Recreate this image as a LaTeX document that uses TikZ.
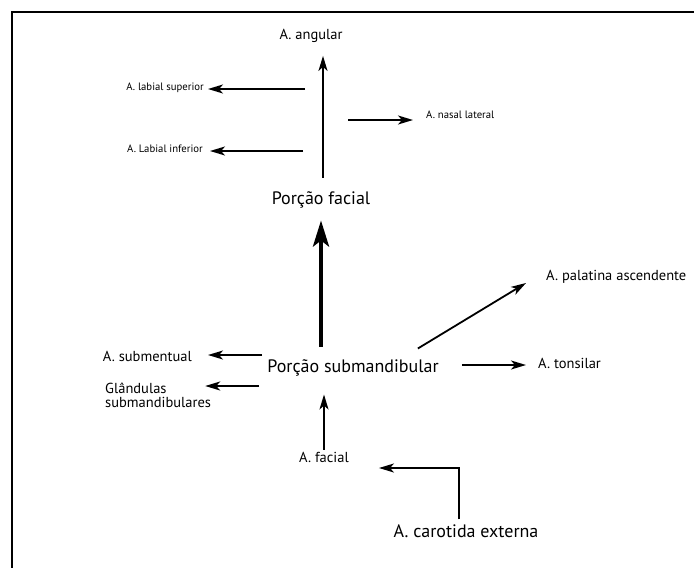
\documentclass[tikz,border=0pt]{standalone}
\usepackage{fontspec}
\setmainfont{PT Sans}
\usetikzlibrary{arrows.meta}

\begin{document}
\begin{tikzpicture}[
    x=1pt,
    y=-1pt,
    >=Stealth,
    small/.style={font=\fontsize{10.7}{12}\selectfont, inner sep=1pt},
    medium/.style={font=\fontsize{14.5}{14}\selectfont, inner sep=1pt},
    large/.style={font=\fontsize{18}{20}\selectfont, inner sep=1pt},
    arr/.style={-{Stealth[length=15pt, width=9pt, inset=4pt]}, line width=1.8pt},
    bigarr/.style={-{Stealth[length=26pt, width=16pt, inset=6pt]}, line width=4pt}
]
    \useasboundingbox (0,0) rectangle (694,568);
    \draw[line width=2pt] (11.5,568) -- (11.5,12) -- (694,12);

    % facial part
    \node[medium] (ang) at (311,36) {A. angular};
    \node[small, anchor=east] (lsup) at (205,88) {A. labial superior};
    \node[small, anchor=west] (nasal) at (425,115) {A. nasal lateral};
    \node[small, anchor=east] (linf) at (204,149) {A. Labial inferior};
    \node[large] (fac) at (321,200) {Porção facial};

    % submandibular part
    \node[medium, anchor=west] (pal) at (545,277) {A. palatina ascendente};
    \node[medium, anchor=east] (subm) at (193,356) {A. submentual};
    \node[large] (sub) at (353,368) {Porção submandibular};
    \node[medium, anchor=west] (ton) at (537,363) {A. tonsilar};
    \node[medium, anchor=north west, align=left] (gla) at (104,382) {Glândulas\\submandibulares};

    % origin
    \node[medium] (facial) at (324,457) {A. facial};
    \node[large] (car) at (466,531) {A. carotida externa};

    \draw[arr] ([xshift=2pt, yshift=13pt]fac.north) -- ([xshift=12pt, yshift=-12pt]ang.south);
    \draw[arr] ([xshift=100pt, yshift=-1pt]lsup.east) -- ([xshift=3pt, yshift=-1pt]lsup.east);
    \draw[arr] ([xshift=-77pt, yshift=-5pt]nasal.west) -- ([xshift=-12pt, yshift=-5pt]nasal.west);
    \draw[arr] ([xshift=99pt, yshift=-2pt]linf.east) -- ([xshift=6pt, yshift=-2pt]linf.east);

    \draw[bigarr, shorten <=12pt, shorten >=11pt] (sub.north -| fac) -- (fac.south);
    \draw[arr] ([xshift=-22pt, yshift=10pt]sub.north east) -- ([xshift=-19pt, yshift=-6pt]pal.west);
    \draw[arr] ([xshift=-4pt, yshift=13pt]sub.west) -- ([xshift=15pt, yshift=1pt]subm.east);
    \draw[arr] ([xshift=22pt, yshift=3pt]sub.east) -- ([xshift=-11pt, yshift=-2pt]ton.west);
    \draw[arr] ([xshift=-7pt, yshift=-18pt]sub.west) -- ([xshift=-7pt, yshift=-4pt]gla.north east);

    \draw[arr, shorten <=1pt, shorten >=17pt] (facial.north) -- (facial.north |- sub.south);
    \draw[arr] ([xshift=-7pt, yshift=4pt]car.north) |- ([xshift=29pt, yshift=-11pt]facial.east);
\end{tikzpicture}
\end{document}
